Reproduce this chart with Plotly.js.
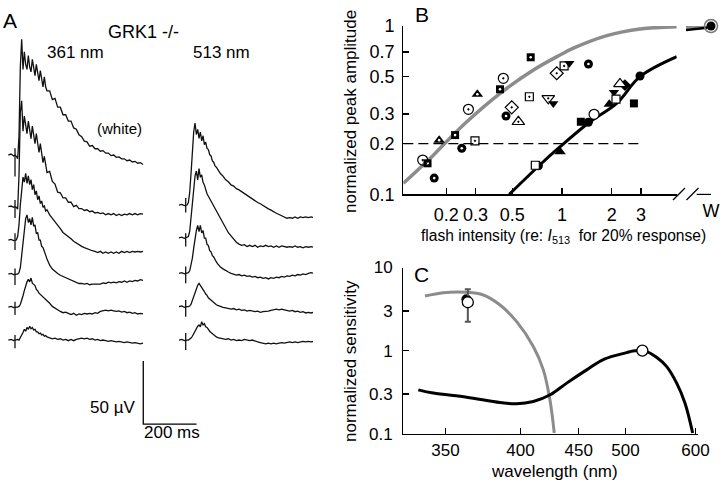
<!DOCTYPE html>
<html><head><meta charset="utf-8">
<script src="https://cdn.plot.ly/plotly-3.0.1.min.js"></script>
<style>html,body{margin:0;padding:0;background:#fff}#chart{width:720px;height:486px}</style>
</head><body><div id="chart"></div>
<script>
// ---------------- Panel A: ERG traces (time in ms after flash, response in µV) ----------------
const tGrid = [-25,-15,-5,0,5,10,15,20,25,30,35,40,45,50,55,60,65,70,75,80,85,90,95,100,105,110,115,120,
  130,140,150,160,170,180,190,200,210,220,230,240,250,260,270,280,290,300,310,320,330,340,350,360,370,380,390,400,410,420,430,440,450,460,470,480];

const uv361_white = [0,0.8,-0.8,0,-1,-3,15,70,92,
  68,82,72,68,79,70,66,76,67,63,72,64,59,67,59,54,62,54,51,
  51,44,45,38,38,32,32,27,27,21.5,20.5,16,14.5,11,10.5,7,7.5,5,5,3,3.5,1.5,1.5,-0.5,0,-1.8,-1.5,-3,-3,-4.5,-4,-5.5,-5,-6.5,-6,-7.5];
const uv361_2 = [0,0.5,-0.5,0,-0.5,-2,25,75,84,
  60,72,63,58,68,60,54,64,56,50,58,49,43,50,41,35,40,32,27,
  28,20,18,11.5,11,7,7,3.5,3.5,0,1,-1.5,-1.5,-3,-2.5,-4,-3.5,-5,-4.5,-5.5,-5,-6.5,-5.5,-6.5,-5.5,-7,-6,-7,-6,-6.5,-5.5,-6.5,-5.5,-6.5,-5.5,-6];
const uv361_3 = [0,0.5,-0.5,0,0,3,12,28,42,
  50,46,53,45,51,44,48,40,44,36,39,32,35,29,31,26,27,23,24,
  20,17,14,12,9,6,4.5,2.5,1,-1,-2.5,-4,-5,-6,-7,-8,-8.5,-9,-10,-9,-10.5,-9.5,-10.5,-9.5,-10.5,-9.5,-10.5,-9,-10,-9,-10,-9,-9.5,-9,-9.5,-9];
const uv361_4 = [0,0.5,-0.5,0,0,0,1,5,15,
  28,38,44,47,41,44,39,45,38,39,32,33,27,27,22,21,17,15,12,
  7,4,2,0.5,-1,-2,-3,-4,-5,-6,-6.5,-7.5,-7.5,-8,-7.5,-8.5,-8,-8,-7.5,-8,-7,-7.5,-6.5,-7,-6.5,-7,-6,-6.5,-5.5,-6.5,-5.5,-6,-5,-5.5,-4.5,-5];
const uv361_5 = [0,0.5,-0.5,0,0,0,0.5,2,5,
  9,13,17,20,22,20,23,19,18,17,14,13,11,10,9,8,7,6,5.5,
  3,0.5,-1,-2.5,-3.5,-4.5,-4,-5,-6,-5,-6.5,-5.5,-6,-5,-5.5,-5,-5.5,-4.5,-5,-3.5,-3,-2.5,-3,-2.5,-3,-3.5,-3,-4,-3.5,-4.5,-4,-5,-4.5,-5.5,-5,-5.5];
const uv361_6 = [0,0.5,-0.5,0,0,0.5,0,1.5,4,
  6,8.5,7,10,8.5,11,9,10,8,8.5,6.5,6.5,5,5.5,4,4.5,3,3.5,2.5,
  2,1,1.5,0.5,1,0,0.5,-0.5,0.5,-0.5,0.5,1,1.5,1,1.5,0.5,1,0,0.5,-0.5,0,-0.5,-1,-0.5,-1,-1.5,-1,-1.5,-2,-1.5,-2,-2.5,-2,-2.5,-3,-2.5];

const uv513_1 = [0,0.5,-0.5,0,0,2,10,25,45,
  58,65,56,60,53,58,51,55,48,50,45,44,40,39,35,34,31,30,28,
  25,23,20,18.5,16,15,13,12,10.5,9,7.5,6,4.5,3.5,2,1,-0.5,-1.5,-3,-4,-5.5,-6.5,-7.5,-8.5,-9.5,-10.5,-10,-10.5,-9.5,-10.5,-9.5,-10,-9.5,-10,-9.5,-10];
const uv513_2 = [0,0.5,-0.5,0,0,1,5,15,28,
  40,49,53,46,55,48,50,44,42,38,35,33,31,29,27,25,23,21,19,
  15,11,7.5,4,1.5,-1,-3.5,-5,-6,-5.5,-7,-6,-7,-6,-7.5,-6.5,-7,-6,-7,-6.5,-7.5,-6.5,-7.5,-6.5,-7,-7.5,-7,-7.5,-6.5,-7.5,-7,-8,-7,-7.5,-7,-7.5];
const uv513_3 = [0,0.5,-0.5,0,0,0.5,2,6,12,
  20,28,34,38,33,38,32,34,28,28,23,22,18,17,14,13,10.5,9,7.5,
  5,3.5,2,1,0,-0.5,-1.5,-1,-2,-1.5,-2.5,-2,-3,-2.5,-3.5,-3,-4,-3.5,-4.5,-3.5,-4,-3,-3.5,-2.5,-3,-2,-2.5,-1.5,-2,-1,-1.5,-0.5,-1,0,0.5,0];
const uv513_4 = [0,0.5,-0.5,0,0,0,0.5,2,5,
  9,12,15,17,18.5,17,16,13.5,12,10,9,7,6,5,4,3,2,1.5,1,
  0,-0.5,-1,-1.5,-2,-1.5,-2.5,-2,-3,-2.5,-3.5,-3,-3.5,-4,-3.5,-4.5,-4,-4,-3.5,-3,-2.5,-2,-2.5,-2,-2.5,-3,-3.5,-3,-4,-3.5,-4.5,-4,-5,-4.5,-5,-4.5];
const uv513_5 = [0,0.5,-0.5,0,0,0,0.5,1.5,3,
  5,7,9.5,11,12,10.5,14.5,12,13,10.5,10,8,7,6,5,4,3.5,2.5,2,
  1.5,1,0.5,1,0,0.5,-0.5,0,-0.5,0.5,0,-0.5,0,-1,-1.5,-2,-2.5,-3,-2.5,-3,-2.5,-3,-2.5,-2,-2.5,-2,-1.5,-2,-1.5,-2,-1.5,-1,-1.5,-1,-1.5,-1];

// flash artifact extent (µV above / below baseline)
const artUp361 = [5.3,5.3,5.3,4.5,4.2,4];
const artDown361 = [-17,-9,-8,-8.7,-6.4,-6.6];
const artUp513 = [5.5,3.5,5.3,5.3,5.5];
const artDown513 = [-6,-7,-8,-8,-8];

// scale bar
const scaleBarUV = 50;
const scaleBarMs = 200;

// ---------------- Panel B: normalized peak amplitude vs flash intensity ----------------
const grayBx = [0.110,0.167,0.201,0.266,0.423,0.672,0.974,1.172,1.866,2.965,4.94];
const grayBy = [0.1164,0.171,0.206,0.270,0.398,0.548,0.673,0.738,0.876,0.960,0.99];
const blackBx = [0.48,0.737,0.974,1.478,2.14,2.96,4.94];
const blackBy = [0.10,0.150,0.192,0.27,0.347,0.50,0.657];
const criterion = 0.2;
const criterionX = [0.110, 2.9];

const openCircDotX = [0.144,0.272,0.442];
const openCircDotY = [0.160,0.320,0.489];
const blackCircDotX = [0.169,0.248,0.459,1.445];
const blackCircDotY = [0.125,0.188,0.292,0.595];
const blackSqDotX = [0.154,0.226,0.422,0.647];
const blackSqDotY = [0.153,0.225,0.421,0.652];
const blackTriDotX = [0.181,0.308];
const blackTriDotY = [0.210,0.393];
const openSqDotX = [0.298,0.635,1.03];
const openSqDotY = [0.208,0.380,0.579];
const openDiaDotX = [0.497,0.929];
const openDiaDotY = [0.329,0.524];
const openTriDotX = [0.545];
const openTriDotY = [0.270];
const openTriDownDotX = [0.826];
const openTriDownDotY = [0.372];
const blackTriDownX = [0.886,1.108,2.06];
const blackTriDownY = [0.347,0.600,0.404];

const blackCircX = [0.72,1.443,2.96];
const blackCircY = [0.148,0.268,0.505];
const openCircX = [1.562];
const openCircY = [0.299];
const blackTriX = [0.974,1.93];
const blackTriY = [0.179,0.343];
const openSqX = [0.69,2.12];
const openSqY = [0.149,0.368];
const blackSqX = [1.30,2.72];
const blackSqY = [0.27,0.347];
const openTriX = [2.24];
const openTriY = [0.453];
const blackDiaX = [2.40];
const blackDiaY = [0.446];

// white flash (W)
const wGrayX = [0, 0.5, 0.95];
const wGrayY = [0.985, 0.99, 1.0];
const wBlackX = [0, 0.45, 0.85];
const wBlackY = [0.947, 0.965, 0.977];
const wPointX = [1];
const wPointY = [1.0];

// ---------------- Panel C: normalized sensitivity vs wavelength ----------------
const grayCnm = [338.4,348.7,362.8,373.5,385,397.1,410,418.2,423.8,427.5];
const grayCsens = [4.54,4.98,5.03,4.67,3.54,2.23,1.12,0.586,0.255,0.102];
const blackCnm = [334.8,343,362.8,385,397,410,424,438.6,457.7,476,501.5,509,517,526,540,554.5,569.5,582.7,595.3];
const blackCsens = [0.337,0.308,0.275,0.237,0.229,0.244,0.294,0.406,0.586,0.79,0.946,0.99,1.0,0.98,0.83,0.642,0.406,0.233,0.102];
const uvFilledNm = [362.6];
const uvFilledSens = [4.15];
const uvOpenNm = [363.5];
const uvOpenSens = [3.82];
const uvErrHi = [5.47];
const uvErrLo = [2.23];
const greenOpenNm = [521];
const greenOpenSens = [1.0];
const cTickNm = [350,400,450,500,600];

// ---------------- build ----------------
const FONT = 'Arial, "Liberation Sans", Helvetica, sans-serif';
const W = 720, H = 486;
const PX = v => v / W, PY = v => 1 - v / H;
const inv = nm => 1000 / nm;

const traces = [];

// Panel A traces
const leftSet = [uv361_white, uv361_2, uv361_3, uv361_4, uv361_5, uv361_6];
const rightSet = [uv513_1, uv513_2, uv513_3, uv513_4, uv513_5];
const A = { leftOffsets: [262.8,221.8,195.3,168.3,142.1,115.9], rightOffsets: [223.1,197.1,168.9,142.4,115.9] };
function addErg(vals, off, xa, up, down) {
  traces.push({type:'scatter', mode:'lines', xaxis:xa, yaxis:'y2', x:tGrid, y:vals.map(v=>v+off),
    line:{color:'#111', width:1.3}});
  traces.push({type:'scatter', mode:'lines', xaxis:xa, yaxis:'y2', x:[0,0], y:[off+up, off+down],
    line:{color:'#111', width:1.3}});
}
leftSet.forEach((v,i)=>addErg(v, A.leftOffsets[i], 'x3', artUp361[i], artDown361[i]));
rightSet.forEach((v,i)=>addErg(v, A.rightOffsets[i], 'x4', artUp513[i], artDown513[i]));
const sb = {t0: 481, v0: 49.2};
traces.push({type:'scatter', mode:'lines', xaxis:'x3', yaxis:'y2',
  x:[sb.t0, sb.t0, sb.t0+scaleBarMs], y:[sb.v0+scaleBarUV, sb.v0, sb.v0],
  line:{color:'#000', width:1.3}});

// Panel B
traces.push({type:'scatter', mode:'lines', x:grayBx, y:grayBy, line:{color:'#8c8c8c', width:3.5, shape:'spline'}});
traces.push({type:'scatter', mode:'lines', x:blackBx, y:blackBy, line:{color:'#000', width:3, shape:'spline'}});
traces.push({type:'scatter', mode:'lines', x:criterionX, y:[criterion, criterion], line:{color:'#000', width:1.2, dash:'10px,5px'}});
traces.push({type:'scatter', mode:'lines', xaxis:'x2', x:wGrayX, y:wGrayY, line:{color:'#8c8c8c', width:3.5}});
traces.push({type:'scatter', mode:'lines', xaxis:'x2', x:wBlackX, y:wBlackY, line:{color:'#000', width:2.5}});
function mk(x, y, symbol, size, fill, lineW, xa) {
  traces.push({type:'scatter', mode:'markers', x:x, y:y, xaxis:xa||'x', cliponaxis:false,
    marker:{symbol:symbol, size:size, color:fill, line:{color:'#000', width:lineW}}});
}
mk(blackTriDownX, blackTriDownY, 'triangle-down', 9, '#000', 0);
mk(blackSqX, blackSqY, 'square', 8, '#000', 0);
mk(blackDiaX, blackDiaY, 'diamond', 9, '#000', 0);
mk(blackCircX, blackCircY, 'circle', 9, '#000', 0);
mk(blackTriX, blackTriY, 'triangle-up', 10, '#000', 0);
mk(openSqX, openSqY, 'square', 8, '#fff', 1.2);
mk(openCircX, openCircY, 'circle', 10, '#fff', 1.2);
mk(openTriX, openTriY, 'triangle-up', 11, '#fff', 1.2);
mk(blackCircDotX, blackCircDotY, 'circle', 9, '#000', 0);
mk(blackSqDotX, blackSqDotY, 'square', 8, '#000', 0);
mk(blackTriDotX, blackTriDotY, 'triangle-up', 10, '#000', 0);
traces.push({type:'scatter', mode:'markers', cliponaxis:false,
  x:[].concat(blackCircDotX, blackSqDotX, blackTriDotX),
  y:[].concat(blackCircDotY, blackSqDotY, blackTriDotY),
  marker:{symbol:'circle', size:2.6, color:'#fff'}});
mk(openCircDotX, openCircDotY, 'circle-open-dot', 10, '#000', 1.2);
mk(openSqDotX, openSqDotY, 'square-open-dot', 8, '#000', 1.2);
mk(openDiaDotX, openDiaDotY, 'diamond-open-dot', 10, '#000', 1.2);
mk(openTriDotX, openTriDotY, 'triangle-up-open-dot', 11, '#000', 1.2);
mk(openTriDownDotX, openTriDownDotY, 'triangle-down-open-dot', 11, '#000', 1.2);
traces.push({type:'scatter', mode:'markers', xaxis:'x2', cliponaxis:false, x:wPointX, y:wPointY,
  marker:{symbol:'circle-open', size:13, color:'#777', line:{color:'#777', width:1.5}}});
mk(wPointX, wPointY, 'circle', 9, '#000', 0, 'x2');

// Panel C
traces.push({type:'scatter', mode:'lines', xaxis:'x5', yaxis:'y3', x:grayCnm.map(inv), y:grayCsens,
  line:{color:'#8c8c8c', width:3, shape:'spline'}});
traces.push({type:'scatter', mode:'lines', xaxis:'x5', yaxis:'y3', x:blackCnm.map(inv), y:blackCsens,
  line:{color:'#000', width:3, shape:'spline'}});
traces.push({type:'scatter', mode:'markers', xaxis:'x5', yaxis:'y3', cliponaxis:false, x:uvFilledNm.map(inv), y:uvFilledSens,
  marker:{symbol:'circle', size:10, color:'#000'}});
traces.push({type:'scatter', mode:'markers', xaxis:'x5', yaxis:'y3', cliponaxis:false, x:uvOpenNm.map(inv), y:uvOpenSens,
  error_y:{type:'data', symmetric:false, array:uvErrHi.map((h,i)=>h-uvOpenSens[i]), arrayminus:uvErrLo.map((l,i)=>uvOpenSens[i]-l),
    color:'#555', thickness:2, width:3},
  marker:{symbol:'circle', size:11, color:'#fff', line:{color:'#000', width:1.3}}});
traces.push({type:'scatter', mode:'markers', xaxis:'x5', yaxis:'y3', cliponaxis:false, x:greenOpenNm.map(inv), y:greenOpenSens,
  marker:{symbol:'circle', size:11, color:'#fff', line:{color:'#000', width:1.3}}});

traces.forEach(t=>{ t.showlegend=false; t.hoverinfo='skip'; });

const axBase = {showgrid:false, zeroline:false, showline:true, linecolor:'#000', linewidth:1.2,
  ticks:'inside', ticklen:6, tickwidth:1.2, tickcolor:'#000', fixedrange:true};
const hidden = {visible:false, fixedrange:true};

const layout = {
  width:W, height:H, margin:{l:0,r:0,t:0,b:0}, paper_bgcolor:'#fff', plot_bgcolor:'rgba(0,0,0,0)',
  showlegend:false, font:{family:FONT, color:'#000', size:17},
  xaxis: Object.assign({}, axBase, {type:'log', domain:[PX(403.3), PX(676.7)], range:[-0.9589, 0.6931], anchor:'y',
    tickvals:[0.2,0.3,0.5,1,2,3], ticktext:['0.2','0.3','0.5','1','2','3'], tickfont:{size:18}, ticklabelstandoff:4}),
  xaxis2: Object.assign({}, axBase, {showline:false, domain:[PX(686), PX(711)], range:[0,1], anchor:'y',
    tickvals:[1], ticktext:['W'], tickfont:{size:18}, ticklabelstandoff:4}),
  yaxis: Object.assign({}, axBase, {type:'log', domain:[PY(194.4), PY(26)], range:[-1,0], anchor:'x',
    tickvals:[0.1,0.2,0.3,0.5,0.7,1], ticktext:['0.1','0.2','0.3','0.5','0.7','1'], tickfont:{size:18}, ticklabelstandoff:4}),
  xaxis3: Object.assign({}, hidden, {domain:[PX(8), PX(200)], range:[-26.25, 693.75], anchor:'y2'}),
  xaxis4: Object.assign({}, hidden, {domain:[PX(178), PX(313)], range:[-28.875, 477.375], anchor:'y2'}),
  yaxis2: Object.assign({}, hidden, {domain:[0,1], range:[0, 385.9], anchor:'x3'}),
  xaxis5: Object.assign({}, axBase, {domain:[PX(403.3), PX(697.7)], range:[3.0584, 1.6558], anchor:'y3',
    tickvals:cTickNm.map(inv), ticktext:cTickNm.map(String), tickfont:{size:17}, ticklabelstandoff:1}),
  yaxis3: Object.assign({}, axBase, {type:'log', domain:[PY(433.7), PY(267.5)], range:[-1,1], anchor:'x5',
    tickvals:[0.1,0.3,1,3,10], ticktext:['0.1','0.3','1','3','10'], tickfont:{size:17}, ticklabelstandoff:6}),
  shapes: [
    {type:'line', xref:'paper', yref:'paper', x0:PX(696.7), x1:PX(711), y0:PY(194.4), y1:PY(194.4), line:{color:'#000', width:1.2}},
    {type:'line', xref:'paper', yref:'paper', x0:PX(673), x1:PX(685), y0:PY(200), y1:PY(188), line:{color:'#000', width:1.2}},
    {type:'line', xref:'paper', yref:'paper', x0:PX(686.5), x1:PX(698.5), y0:PY(200), y1:PY(188), line:{color:'#000', width:1.2}}
  ],
  annotations: [
    {text:'A', x:PX(10), y:PY(20), size:21},
    {text:'B', x:PX(422), y:PY(14.5), size:21},
    {text:'C', x:PX(421.7), y:PY(274), size:21},
    {text:'GRK1 -/-', x:PX(143), y:PY(31.7), size:18},
    {text:'361 nm', x:PX(75.5), y:PY(52.3), size:17},
    {text:'513 nm', x:PX(221.5), y:PY(52.3), size:17},
    {text:'(white)', x:PX(119), y:PY(128.3), size:15},
    {text:'50 \u00b5V', x:PX(137), y:PY(407), size:17, xanchor:'right'},
    {text:'200 ms', x:PX(171.7), y:PY(432), size:17},
    {text:'normalized peak amplitude', x:PX(350), y:PY(112), size:17, textangle:-90},
    {text:'normalized sensitivity', x:PX(350), y:PY(361), size:17, textangle:-90},
    {text:'flash intensity (re: <i>I</i><sub>513</sub>\u00a0 for 20% response)', x:PX(563.8), y:PY(236.7), size:15.6},
    {text:'wavelength (nm)', x:PX(554.7), y:PY(471.5), size:17}
  ].map(a=>({text:a.text, x:a.x, y:a.y, xref:'paper', yref:'paper', showarrow:false,
     xanchor:a.xanchor||'center', yanchor:'middle', textangle:a.textangle||0,
     font:{family:FONT, size:a.size, color:'#000'}}))
};

Plotly.newPlot('chart', traces, layout, {staticPlot:true, displayModeBar:false});
</script></body></html>
